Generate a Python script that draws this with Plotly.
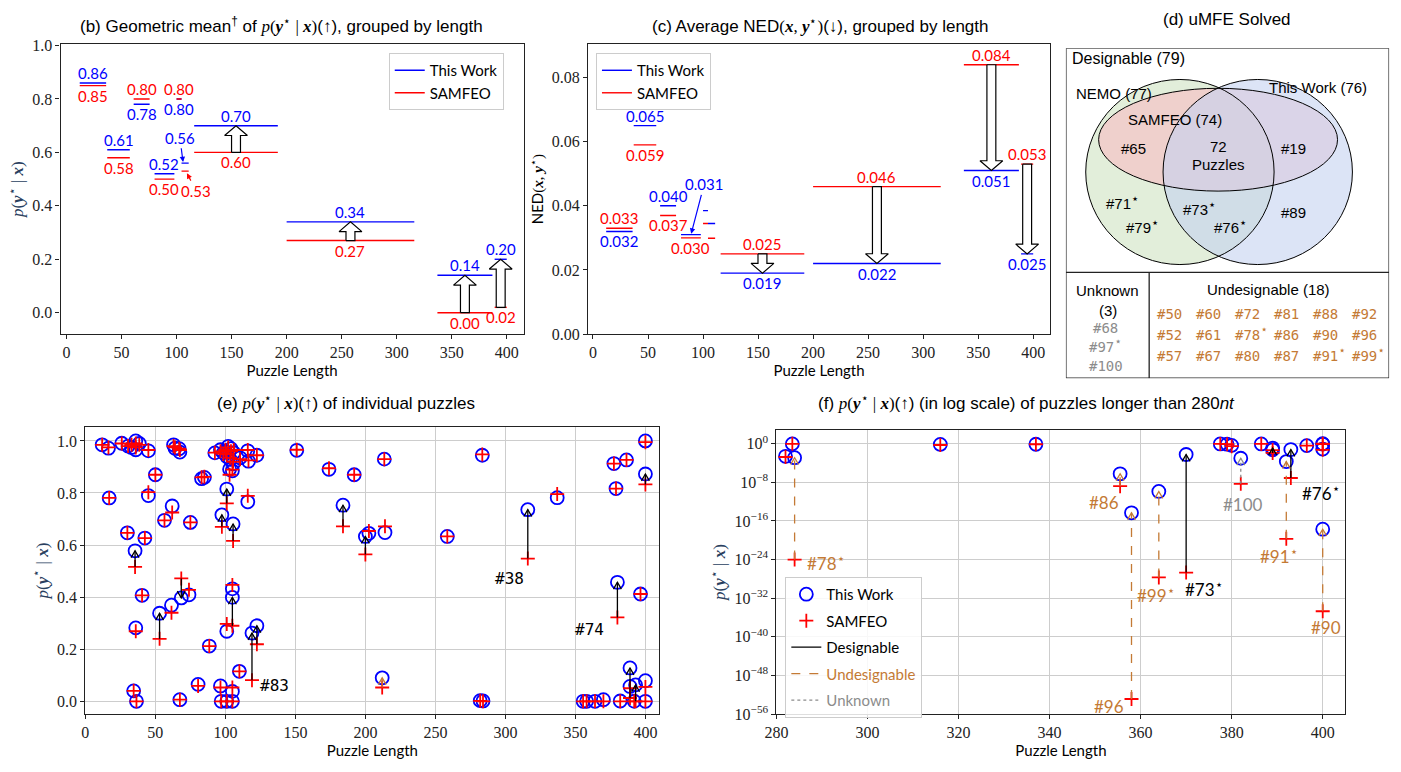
import math
import plotly.graph_objects as go

W, H = 1401, 772

# ---------------- data: (b)/(c) grouped by length ----------------
group_start = [12, 37, 61, 80, 100, 104.5, 116, 200, 337, 389]
group_end = [36, 57.5, 75.5, 98, 104.5, 111, 192, 316, 387, 400]
geo_this = [0.86, 0.61, 0.78, 0.52, 0.80, 0.56, 0.70, 0.34, 0.14, 0.20]
geo_samfeo = [0.85, 0.58, 0.80, 0.50, 0.80, 0.53, 0.60, 0.27, 0.00, 0.02]
ned_this = [0.032, 0.065, 0.040, 0.031, 0.0385, 0.0345, 0.019, 0.022, 0.051, 0.025]
ned_samfeo = [0.033, 0.059, 0.037, 0.030, 0.0345, 0.0299, 0.025, 0.046, 0.084, 0.053]
arrow_groups = [6, 7, 8, 9]

# ---------------- data: (e)/(f) individual puzzles ----------------
puzzle_len = [12, 16.5, 26, 30.5, 33, 36, 38.5, 36, 45, 63,
              64, 67.5, 67, 92.5, 96.5, 98.5, 102, 100, 104, 106,
              101, 103.5, 105.5, 105, 103, 110.5, 116, 116.5, 122.5, 151,
              174, 192, 213.5, 283.5, 377.5, 386.5, 400, 17, 45, 50,
              85, 83, 62, 56.5, 75, 30, 42.5, 101, 97.5, 105.5,
              116, 184, 35.5, 40.5, 53, 61.5, 68.5, 74, 105, 105,
              101, 36, 88.5, 110, 119, 122.5, 34.5, 36.5, 67.5, 80.5,
              96.5, 97, 101, 105, 105, 200, 202.5, 214, 212, 258.5,
              282, 284, 316, 337, 379, 380, 396.5, 400, 400, 355.5,
              358, 364, 370, 382, 389, 389, 393, 392, 400]
p_this = [0.985, 0.972, 0.991, 0.980, 0.975, 1.000, 0.990, 0.966, 0.962, 0.985,
          0.972, 0.957, 0.970, 0.954, 0.966, 0.954, 0.979, 0.960, 0.970, 0.955,
          0.940, 0.929, 0.912, 0.885, 0.891, 0.935, 0.962, 0.922, 0.945, 0.964,
          0.891, 0.870, 0.930, 0.945, 0.913, 0.927, 1.000, 0.781, 0.790, 0.870,
          0.860, 0.855, 0.750, 0.695, 0.687, 0.647, 0.627, 0.815, 0.716, 0.681,
          0.766, 0.753, 0.578, 0.407, 0.338, 0.369, 0.397, 0.409, 0.432, 0.399,
          0.269, 0.282, 0.212, 0.115, 0.262, 0.290, 0.040, 0.000, 0.006, 0.065,
          0.059, 0.000, 0.000, 0.000, 0.038, 0.633, 0.645, 0.648, 0.090, 0.633,
          0.0025, 0.0013, 0.736, 0.782, 0.817, 0.457, 0.412, 0.873, 0.079, 6e-7,
          5e-15, 1.3e-10, 6e-3, 1e-3, 0.128, 0.057, 0.063, 2e-4, 2e-18]
p_samfeo = [0.985, 0.975, 0.990, 0.980, 0.985, 0.990, 0.985, 0.975, 0.965, 0.980,
            0.975, 0.965, 0.970, 0.955, 0.960, 0.950, 0.975, 0.965, 0.960, 0.965,
            0.950, 0.935, 0.920, 0.890, 0.870, 0.930, 0.965, 0.925, 0.945, 0.966,
            0.895, 0.870, 0.930, 0.948, 0.913, 0.927, 0.995, 0.781, 0.803, 0.870,
            0.862, 0.860, 0.725, 0.695, 0.687, 0.647, 0.627, 0.760, 0.670, 0.616,
            0.789, 0.672, 0.516, 0.407, 0.240, 0.340, 0.472, 0.428, 0.447, 0.290,
            0.297, 0.269, 0.212, 0.115, 0.081, 0.219, 0.040, 0.000, 0.006, 0.059,
            0.053, 0.000, 0.000, 0.000, 0.053, 0.564, 0.654, 0.672, 0.053, 0.633,
            0.0018, 1e-24, 0.548, 0.796, 0.817, 0.322, 0.412, 0.833, 0.055, 1.6e-9,
            1.3e-53, 2e-28, 2e-27, 5e-9, 0.0126, 0.050, 8e-8, 2e-20, 2e-35]
puzzle_cat = (['D'] * 67 + ['U', 'U', 'D', 'D', 'U', 'U', 'U', 'D', 'D', 'D', 'D', 'U', 'D',
                           'D', 'U', 'D', 'D', 'D', 'D', 'D', 'D', 'N', 'U',
                           'U', 'U', 'D', 'N', 'D', 'D', 'D', 'U', 'U'])

# ---------------- data: (d) ----------------
STAR = "<sup><span style='font-size:13px'>⋆</span></sup>"
undesignable_ids = ["#50", "#52", "#57", "#60", "#61", "#67", "#72", "#78" + STAR, "#80",
                    "#81", "#86", "#87", "#88", "#90", "#91" + STAR, "#92", "#96", "#99" + STAR]
unknown_ids = ["#68", "#97" + STAR, "#100"]

# ---------------- style / layout ----------------
BLUE, RED = '#0000ff', '#ff0000'
ORANGE, GRAY = '#c47a35', '#8c8c8c'
CAT_COLOR = {'D': '#000000', 'U': ORANGE, 'N': GRAY}
CAT_DASH = {'D': 'solid', 'U': 'dash', 'N': 'dot'}
CAT_NAME = {'D': 'Designable', 'U': "<span style='color:%s'>Undesignable</span>" % ORANGE,
            'N': "<span style='color:%s'>Unknown</span>" % GRAY}
SERIF = 'Liberation Serif, DejaVu Serif, serif'
SANS = 'Lato, Open Sans, sans-serif'
TSANS = 'Liberation Sans, Arial, sans-serif'
MONO = 'DejaVu Sans Mono, monospace'

BOX = {'b': (49, 516, 38, 334), 'c': (581, 1047, 38, 334), 'd': (1063, 1389, 42, 379),
       'e': (74, 653, 429, 722), 'f': (771, 1345, 432, 722)}
XR = {'b': (-5.4, 415.3), 'c': (-4.5, 415.3), 'd': (1063, 1389), 'e': (0, 410), 'f': (280, 405)}
YR = {'b': (-0.08, 1.005), 'c': (0, 0.0904), 'd': (379, 42), 'e': (-0.049, 1.053), 'f': (-56, 2.84)}
AX = {'b': ('x', 'y'), 'c': ('x2', 'y2'), 'd': ('x3', 'y3'), 'e': ('x4', 'y4'), 'f': ('x5', 'y5')}


def dom(p):
    x0, x1, y0, y1 = BOX[p]
    return [x0 / W, x1 / W], [1 - y1 / H, 1 - y0 / H]


def scl(p):
    x0, x1, y0, y1 = BOX[p]
    return (x1 - x0) / (XR[p][1] - XR[p][0]), abs((y1 - y0) / (YR[p][1] - YR[p][0]))


MP = ("<span style='font-family:Liberation Serif'><i>p</i>(<b><i>y</i></b><sup>⋆</sup> | "
      "<b><i>x</i></b>)</span>")

fig = go.Figure()
annotations = []
shapes = []


def seg(lo, hi, vals):
    xs, ys = [], []
    for a, b, v in zip(lo, hi, vals):
        xs += [a, b, None]
        ys += [v, v, None]
    return xs, ys


def block_arrow(p, xc, y0, y1, hw=4.5, HW=11.5, HL=10):
    sx, sy = scl(p)
    s = 1 if y1 > y0 else -1
    yb = y1 - s * HL / sy
    xs = [xc - hw / sx, xc - hw / sx, xc - HW / sx, xc, xc + HW / sx, xc + hw / sx, xc + hw / sx, xc - hw / sx]
    ys = [y0, yb, yb, y1, yb, yb, y0, y0]
    return xs, ys


def chevron(xa, ya, xb, yb, sx, sy, L=7.0, hw=4.0):
    X0, Y0, X1, Y1 = xa * sx, ya * sy, xb * sx, yb * sy
    dx, dy = X1 - X0, Y1 - Y0
    n = math.hypot(dx, dy)
    ux, uy = dx / n, dy / n
    px, py = -uy, ux
    bx, by = X1 - L * ux, Y1 - L * uy
    return ([(bx + hw * px) / sx, xb, (bx - hw * px) / sx],
            [(by + hw * py) / sy, yb, (by - hw * py) / sy])


# ---------------- (b) and (c) ----------------
for p, v_this, v_sam, legname in [('b', geo_this, geo_samfeo, 'legend'), ('c', ned_this, ned_samfeo, 'legend2')]:
    xa, ya = AX[p]
    for name, vals, col in [('This Work', v_this, BLUE), ('SAMFEO', v_sam, RED)]:
        xs, ys = seg(group_start, group_end, vals)
        fig.add_trace(go.Scatter(x=xs, y=ys, mode='lines', line=dict(color=col, width=1.4), name=name,
                                 xaxis=xa, yaxis=ya, legend=legname, hoverinfo='skip'))
    for g in arrow_groups:
        xc = (group_start[g] + group_end[g]) / 2
        xs, ys = block_arrow(p, xc, v_sam[g], v_this[g])
        fig.add_trace(go.Scatter(x=xs, y=ys, mode='lines', fill='toself', fillcolor='white',
                                 line=dict(color='black', width=1.2), showlegend=False,
                                 xaxis=xa, yaxis=ya, hoverinfo='skip'))

LBLFONT = 15


def add_group_labels(p, v_this, v_sam, fmt, skip):
    xa, ya = AX[p]
    for g in range(len(group_start)):
        if g in skip:
            continue
        xc = (group_start[g] + group_end[g]) / 2
        items = [(v_this[g], BLUE), (v_sam[g], RED)]
        if v_this[g] > v_sam[g]:
            hi, lo = items[0], items[1]
        else:
            hi, lo = items[1], items[0]
        annotations.append(dict(x=xc, y=hi[0], xref=xa, yref=ya, text=fmt.format(hi[0]), showarrow=False,
                                xanchor='center', yanchor='bottom', yshift=-1,
                                font=dict(family=SANS, size=LBLFONT, color=hi[1])))
        annotations.append(dict(x=xc, y=lo[0], xref=xa, yref=ya, text=fmt.format(lo[0]), showarrow=False,
                                xanchor='center', yanchor='top', yshift=1,
                                font=dict(family=SANS, size=LBLFONT, color=lo[1])))


add_group_labels('b', geo_this, geo_samfeo, '{:.2f}', skip=[5])
add_group_labels('c', ned_this, ned_samfeo, '{:.3f}', skip=[3, 4, 5])

# labels with pointer arrows
annotations.append(dict(x=group_start[5] + 1.5, y=geo_this[5], xref='x', yref='y', ax=103, ay=0.655,
                        axref='x', ayref='y', text='{:.2f}'.format(geo_this[5]), showarrow=True,
                        arrowhead=2, arrowsize=0.9, arrowwidth=1.2, arrowcolor=BLUE, standoff=1,
                        font=dict(family=SANS, size=LBLFONT, color=BLUE)))
annotations.append(dict(x=group_end[5] - 2, y=geo_samfeo[5] - 0.005, xref='x', yref='y', ax=118, ay=0.455,
                        axref='x', ayref='y', text='{:.2f}'.format(geo_samfeo[5]), showarrow=True,
                        arrowhead=2, arrowsize=0.9, arrowwidth=1.2, arrowcolor=RED, standoff=1,
                        font=dict(family=SANS, size=LBLFONT, color=RED)))
annotations.append(dict(x=(group_start[3] + group_end[3]) / 2, y=ned_this[3], xref='x2', yref='y2',
                        ax=101, ay=0.0467, axref='x2', ayref='y2', text='{:.3f}'.format(ned_this[3]),
                        showarrow=True, arrowhead=2, arrowsize=0.9, arrowwidth=1.2, arrowcolor=BLUE,
                        standoff=1, font=dict(family=SANS, size=LBLFONT, color=BLUE)))
annotations.append(dict(x=(group_start[3] + group_end[3]) / 2, y=ned_samfeo[3], xref='x2', yref='y2',
                        text='{:.3f}'.format(ned_samfeo[3]), showarrow=False, xanchor='center',
                        yanchor='top', yshift=1, font=dict(family=SANS, size=LBLFONT, color=RED)))


# ---------------- (e) and (f) ----------------
def scatter_panel(p, log, show_leg):
    xa, ya = AX[p]
    idx = [i for i in range(len(puzzle_len)) if (not log or puzzle_len[i] > 280)]
    xs = [puzzle_len[i] for i in idx]
    fig.add_trace(go.Scatter(x=xs, y=[p_this[i] for i in idx], mode='markers', name='This Work',
                             marker=dict(symbol='circle-open', size=13, color=BLUE, line=dict(width=1.8, color=BLUE)),
                             xaxis=xa, yaxis=ya, showlegend=show_leg, legend='legend3', legendgroup='tw',
                             hoverinfo='skip'))
    fig.add_trace(go.Scatter(x=xs, y=[p_samfeo[i] for i in idx], mode='markers', name='SAMFEO',
                             marker=dict(symbol='cross-thin', size=10, color=RED, line=dict(width=1.8, color=RED)),
                             xaxis=xa, yaxis=ya, showlegend=show_leg, legend='legend3', legendgroup='sf',
                             hoverinfo='skip'))
    sx, sy = scl(p)
    for cat in ['D', 'U', 'N']:
        shx, shy, hx, hy = [], [], [], []
        for i in idx:
            if puzzle_cat[i] != cat:
                continue
            a, b = p_samfeo[i], p_this[i]
            if log:
                la, lb = math.log10(a), math.log10(b)
                if abs(lb - la) < 0.5:
                    continue
                cx, cy = chevron(puzzle_len[i], la, puzzle_len[i], lb, sx, sy)
                cy = [10 ** v for v in cy]
            else:
                if abs(b - a) < 0.03:
                    continue
                cx, cy = chevron(puzzle_len[i], a, puzzle_len[i], b, sx, sy)
            shx += [puzzle_len[i], puzzle_len[i], None]
            shy += [a, b, None]
            hx += cx + [None]
            hy += cy + [None]
        fig.add_trace(go.Scatter(x=shx, y=shy, mode='lines', name=CAT_NAME[cat],
                                 line=dict(color=CAT_COLOR[cat], width=1.3, dash=CAT_DASH[cat]),
                                 xaxis=xa, yaxis=ya, showlegend=show_leg, legend='legend3',
                                 legendgroup=cat, hoverinfo='skip'))
        fig.add_trace(go.Scatter(x=hx, y=hy, mode='lines', line=dict(color=CAT_COLOR[cat], width=1.3),
                                 xaxis=xa, yaxis=ya, showlegend=False, hoverinfo='skip'))


scatter_panel('e', False, False)
scatter_panel('f', True, True)

# panel (e) callouts
for txt, x, y in [('#83', 135, 0.06), ('#38', 303, 0.47), ('#74', 360, 0.275)]:
    annotations.append(dict(x=x, y=y, xref='x4', yref='y4', text=txt, showarrow=False, xanchor='center',
                            font=dict(family=MONO, size=16, color='black')))
# panel (f) callouts
for txt, x, y, col in [('#78' + STAR, 291, -24.5, ORANGE), ('#86', 352, -12.1, ORANGE),
                       ('#96', 353, -54.4, ORANGE), ('#99' + STAR, 363.3, -31.2, ORANGE),
                       ('#73' + STAR, 374, -29.9, 'black'), ('#100', 382.5, -12.6, GRAY),
                       ('#91' + STAR, 390.5, -23.1, ORANGE), ('#76' + STAR, 399.6, -9.9, 'black'),
                       ('#90', 400.7, -38.1, ORANGE)]:
    annotations.append(dict(x=x, y=y, xref='x5', yref='y5', text=txt, showarrow=False, xanchor='center',
                            font=dict(family=SANS, size=17, color=col)))

# ---------------- (d) Venn ----------------
fig.add_trace(go.Scatter(x=[1100], y=[100], mode='markers', marker=dict(opacity=0), xaxis='x3', yaxis='y3',
                         showlegend=False, hoverinfo='skip'))
venn = [('circle', 1083, 1273, 74, 263, 'rgba(207,227,193,0.6)'),   # NEMO
        ('circle', 1096, 1337, 83, 188, 'rgba(249,188,195,0.6)'),   # SAMFEO
        ('circle', 1161, 1352, 74, 263, 'rgba(197,210,240,0.6)')]   # This Work
for kind, x0, x1, y0, y1, fc in venn:
    shapes.append(dict(type=kind, xref='x3', yref='y3', x0=x0, x1=x1, y0=y0, y1=y1, fillcolor=fc,
                       line=dict(width=0)))
for kind, x0, x1, y0, y1, fc in venn:
    shapes.append(dict(type=kind, xref='x3', yref='y3', x0=x0, x1=x1, y0=y0, y1=y1,
                       line=dict(color='black', width=1)))
shapes.append(dict(type='rect', xref='x3', yref='y3', x0=1063, x1=1389, y0=42, y1=379,
                   line=dict(color='#222', width=1.3)))
shapes.append(dict(type='line', xref='x3', yref='y3', x0=1063, x1=1389, y0=271, y1=271,
                   line=dict(color='#222', width=1.3)))
shapes.append(dict(type='line', xref='x3', yref='y3', x0=1147, x1=1147, y0=271, y1=379,
                   line=dict(color='#222', width=1.3)))


def vtxt(x, y, t, size=15, color='black', anchor='center', family=TSANS, base=False):
    d = dict(x=x, y=y, xref='x3', yref='y3', text=t, showarrow=False, xanchor=anchor,
             font=dict(family=family, size=size, color=color))
    if base:
        # anchor on the text bottom so superscripts do not shift the line
        d.update(y=y + size * 0.62, yanchor='bottom')
    annotations.append(d)


vtxt(1067, 53, 'Designable (79)', 16, anchor='left')
vtxt(1071, 88, 'NEMO (77)', 15, anchor='left')
vtxt(1266, 82, 'This Work (76)', 15, anchor='left')
vtxt(1124, 115, 'SAMFEO (74)', 15, anchor='left')
vtxt(1131, 144, '#65')
vtxt(1217, 142, '72')
vtxt(1217, 161, 'Puzzles')
vtxt(1293, 144, '#19')
vtxt(1120, 202, '#71' + STAR, base=True)
vtxt(1140, 227, '#79' + STAR, base=True)
vtxt(1198, 208, '#73' + STAR, base=True)
vtxt(1229, 227, '#76' + STAR, base=True)
vtxt(1293, 211, '#89', base=True)
vtxt(1105, 290, 'Unknown', 15)
vtxt(1105, 310, '(3)', 15)
for k, t in enumerate(unknown_ids):
    vtxt(1103, 329 + 19.5 * k, t, 14, GRAY, family=MONO, base=True)
vtxt(1267, 288, 'Undesignable (18)', 15)
for k, t in enumerate(undesignable_ids):
    col, row = k // 3, k % 3
    vtxt(1153 + 39.4 * col, 315 + 21.7 * row, t, 14, ORANGE, anchor='left', family=MONO, base=True)

# ---------------- titles ----------------
TITLEFONT = dict(family=TSANS, size=17, color='black')
NEDT = ("NED<span style='font-family:Liberation Serif'>(<b><i>x</i></b>, "
        "<b><i>y</i></b><sup>⋆</sup>)</span>")
for t, x, y in [("(b) Geometric mean<sup>†</sup> of " + MP + "(↑), grouped by length", 272, 18),
                ("(c) Average " + NEDT + "(↓), grouped by length", 815, 18),
                ("(d) uMFE Solved", 1226, 13),
                ("(e) " + MP + "(↑) of individual puzzles", 337, 403),
                ("(f) " + MP + "(↑) (in log scale) of puzzles longer than 280<i>nt</i>", 1023, 403)]:
    annotations.append(dict(x=x / W, y=1 - y / H, xref='paper', yref='paper', text=t, showarrow=False,
                            xanchor='center', yanchor='middle', font=TITLEFONT))

# ---------------- axes ----------------
TICKFONT = dict(family=SERIF, size=16, color='#222')
LABFONT = dict(family=SANS, size=15, color='black')


def axis(**kw):
    d = dict(showline=True, mirror=True, linecolor='#222', linewidth=1.2, ticks='outside', ticklen=4,
             tickwidth=1, tickcolor='#222', tickfont=TICKFONT, zeroline=False, showgrid=False)
    d.update(kw)
    return d


layout_axes = {}
for p, xk, yk in [('b', 'xaxis', 'yaxis'), ('c', 'xaxis2', 'yaxis2'), ('d', 'xaxis3', 'yaxis3'),
                  ('e', 'xaxis4', 'yaxis4'), ('f', 'xaxis5', 'yaxis5')]:
    dx, dy = dom(p)
    xa, ya = AX[p]
    if p == 'd':
        layout_axes[xk] = dict(domain=dx, range=list(XR[p]), visible=False, anchor=ya)
        layout_axes[yk] = dict(domain=dy, range=list(YR[p]), visible=False, anchor=xa)
        continue
    grid = p in ('e', 'f')
    xt = list(range(280, 401, 20)) if p == 'f' else list(range(0, 401, 50))
    layout_axes[xk] = axis(domain=dx, range=list(XR[p]), anchor=ya, tickvals=xt, showgrid=grid,
                           gridcolor='#cdcdcd', gridwidth=1,
                           title=dict(text='Puzzle Length', font=LABFONT, standoff=2))
    if p == 'b':
        yt = dict(tickvals=[0, 0.2, 0.4, 0.6, 0.8, 1.0], tickformat='.1f',
                  title=dict(text=MP, font=dict(family=SERIF, size=17), standoff=4))
    elif p == 'c':
        yt = dict(tickvals=[0, 0.02, 0.04, 0.06, 0.08], tickformat='.2f',
                  title=dict(text=NEDT, font=LABFONT, standoff=4))
    elif p == 'e':
        yt = dict(tickvals=[0, 0.2, 0.4, 0.6, 0.8, 1.0], tickformat='.1f',
                  title=dict(text=MP, font=dict(family=SERIF, size=17), standoff=4))
    else:
        exps = list(range(0, -57, -8))
        yt = dict(type='log', tickvals=[10.0 ** e for e in exps],
                  ticktext=['10<sup>%s</sup>' % (str(e).replace('-', '−')) for e in exps],
                  title=dict(text=MP, font=dict(family=SERIF, size=17), standoff=4))
    layout_axes[yk] = axis(domain=dy, range=list(YR[p]), anchor=xa, showgrid=grid, gridcolor='#cdcdcd',
                           gridwidth=1, **yt)

LEGFONT = dict(family=SANS, size=15, color='black')
fig.update_layout(
    width=W, height=H, autosize=False, margin=dict(l=0, r=0, t=0, b=0),
    paper_bgcolor='white', plot_bgcolor='white', hovermode=False,
    annotations=annotations, shapes=shapes,
    legend=dict(x=380 / W, y=1 - 47 / H, xanchor='left', yanchor='top', bordercolor='#cccccc', borderwidth=1,
                bgcolor='rgba(255,255,255,0.85)', font=LEGFONT),
    legend2=dict(x=589 / W, y=1 - 47 / H, xanchor='left', yanchor='top', bordercolor='#cccccc', borderwidth=1,
                 bgcolor='rgba(255,255,255,0.85)', font=LEGFONT),
    legend3=dict(x=780 / W, y=1 - 582 / H, xanchor='left', yanchor='top', bordercolor='#cccccc', borderwidth=1,
                 bgcolor='rgba(255,255,255,0.85)', font=LEGFONT, traceorder='grouped', tracegroupgap=4),
    **layout_axes,
)

fig.write_html("out.html")
